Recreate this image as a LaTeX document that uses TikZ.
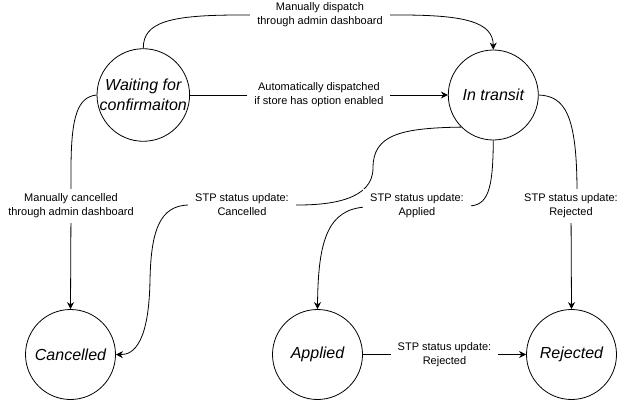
\documentclass[tikz,border=0pt]{standalone}
\usepackage{fontspec}
\setsansfont{Liberation Sans}
\usetikzlibrary{arrows.meta}

\begin{document}
\begin{tikzpicture}[
				x=1pt, y=1pt,
				font=\sffamily,
				status/.style={draw, circle, line width=0.8pt, minimum size=90pt, inner sep=0pt, align=center, font=\sffamily\itshape\fontsize{16}{19.5}\selectfont},
				flow/.style={-{Stealth[length=7pt,width=7pt]}, line width=0.8pt},
				cond/.style={fill=white, align=center, inner xsep=7pt, inner ysep=5pt, font=\sffamily\fontsize{11}{14}\selectfont},
				every node/.style={anchor=center}
				]
				
				\useasboundingbox (0,0) rectangle (627,-401);
				
				\node[status] (wait) at (143.3,-95) {Waiting for\\confirmaiton};
				\node[status] (transit) at (493.3,-95) {In transit};
				\node[status] (cancelled) at (70.5,-354.5) {Cancelled};
				\node[status] (applied) at (317.5,-354.5) {Applied};
				\node[status] (rejected) at (571.5,-354.5) {Rejected};
				
				\draw[flow] (wait.north) .. controls (143,-22) and (170,-15) .. (240,-15) -- (320,-15) node[cond] {Manually dispatch\\through admin dashboard} -- (400,-15) .. controls (465,-15) and (493,-22) .. (transit.north);
				\draw[flow] (wait) -- node[cond] {Automatically dispatched\\if store has option enabled} (transit);
				\draw[flow] (wait.west) .. controls (78,-97) and (71,-115) .. (71,-170) -- (71,-206) node[cond] {Manually cancelled\\through admin dashboard} -- (cancelled.north);
				\draw[flow] (transit.225) .. controls (400,-128) and (373,-135) .. (373,-168) .. controls (373,-200) and (330,-205) .. (298,-205) -- (242,-205) node[cond] {STP status update:\\Cancelled} -- (188,-205) .. controls (160,-206) and (151,-230) .. (150,-280) .. controls (149,-340) and (135,-355) .. (cancelled.east);
				\draw[flow] (transit.south) .. controls (493,-190) and (488,-206) .. (468,-206) -- (417,-206) node[cond] {STP status update:\\Applied} -- (366,-207) .. controls (328,-209) and (318,-240) .. (applied.north);
				\draw[flow] (transit.east) .. controls (565,-96) and (577,-115) .. (577,-192) -- (571,-206) node[cond] {STP status update:\\Rejected} -- (rejected.north);
				\draw[flow] (applied) -- node[cond] {STP status update:\\Rejected} (rejected);
				\end{tikzpicture}
\end{document}
